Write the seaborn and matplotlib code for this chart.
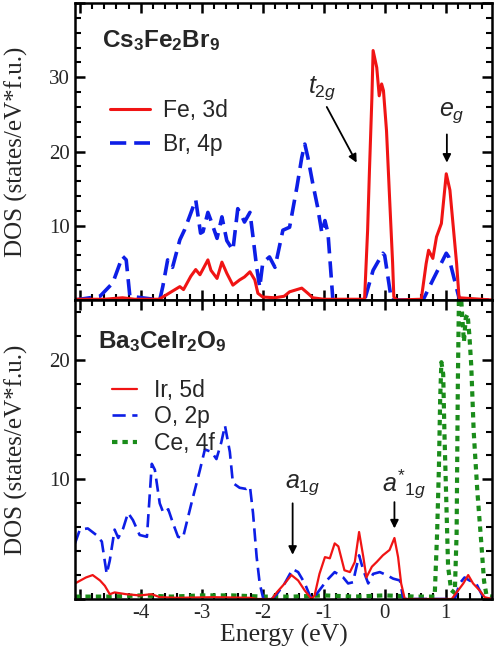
import numpy as np
import pandas as pd
import seaborn as sns
import matplotlib
matplotlib.use("Agg")
import matplotlib.pyplot as plt
from matplotlib.ticker import MultipleLocator, FuncFormatter
from matplotlib.lines import Line2D

# ---- Cs3Fe2Br9 (top panel) ----
fe_x = [-5.08, -4.6, -4.3, -4.1, -3.7, -3.6, -3.52, -3.36, -3.3, -3.18, -3.1, -3.03,
        -2.9, -2.85, -2.75, -2.67, -2.59, -2.49, -2.38, -2.3, -2.21, -2.13, -2.08,
        -2.0, -1.8, -1.65, -1.56, -1.36, -1.26, -1.18, -1.0, -0.33, -0.28, -0.25,
        -0.21, -0.19, -0.13, -0.09, -0.05, -0.02, 0.03, 0.08, 0.13, 0.15, 0.2, 0.6,
        0.68, 0.72, 0.79, 0.85, 0.93, 1.01, 1.07, 1.12, 1.18, 1.22, 1.76]
fe_y = [0.1, 0.1, 0.3, 0.1, 0.1, 0.6, 1.0, 1.8, 1.4, 3.2, 4.1, 3.4,
        5.4, 4.0, 2.9, 5.1, 3.6, 2.0, 2.7, 3.1, 3.8, 2.7, 0.9,
        0.4, 0.3, 0.5, 1.1, 1.6, 0.9, 0.3, 0.1, 0.1, 9.4, 17.4,
        27.2, 33.6, 31.3, 27.5, 29.1, 28.2, 22.8, 13.8, 5.0, 0.4, 0.0, 0.1,
        4.9, 6.7, 5.6, 8.5, 10.3, 17.0, 14.8, 10.3, 4.9, 0.3, 0.0]

br_x = [-5.08, -4.67, -4.46, -4.38, -4.3, -4.24, -4.18, -3.69, -3.64, -3.56, -3.48,
        -3.36, -3.28, -3.18, -3.1, -3.02, -2.98, -2.9, -2.85, -2.75, -2.67, -2.59,
        -2.49, -2.41, -2.36, -2.3, -2.21, -2.16, -2.1, -2.05, -2.0, -1.89, -1.8,
        -1.75, -1.67, -1.56, -1.44, -1.36, -1.31, -1.26, -1.18, -1.1, -1.03, -0.98,
        -0.93, -0.87, -0.85, -0.33, -0.19, -0.03, 0.0, 0.11, 0.63, 0.79, 1.01, 1.05,
        1.2, 1.23, 1.76]
br_y = [0.0, 0.5, 2.3, 4.1, 5.9, 5.4, 0.5, 0.0, 1.8, 5.4, 4.4,
        8.1, 9.5, 11.7, 13.5, 9.0, 9.2, 11.8, 10.7, 8.3, 11.2, 8.0,
        6.7, 12.3, 11.6, 10.5, 11.8, 8.5, 4.4, 1.7, 5.0, 5.8, 4.4,
        6.3, 9.4, 9.8, 15.2, 19.2, 21.0, 19.2, 15.7, 12.5, 9.0, 10.7,
        9.0, 2.3, 0.0, 0.0, 4.0, 6.3, 6.0, 0.0, 0.0, 2.7, 6.3, 5.8,
        0.9, 0.0, 0.0]

# ---- Ba3CeIr2O9 (bottom panel) ----
ir_x = [-5.08, -4.9, -4.79, -4.67, -4.59, -4.51, -4.43, -4.24, -4.02, -3.82, -3.69,
        -3.4, -2.8, -2.2, -2.1, -1.85, -1.77, -1.64, -1.53, -1.42, -1.31, -1.2, -1.15,
        -1.07, -0.98, -0.9, -0.82, -0.76, -0.66, -0.57, -0.49, -0.42, -0.35, -0.3,
        -0.21, -0.13, -0.03, 0.08, 0.16, 0.22, 0.27, 0.33, 1.1, 1.18, 1.29, 1.37,
        1.45, 1.56, 1.64, 1.76]
ir_y = [1.3, 1.8, 2.0, 1.55, 1.1, 0.4, 0.55, 0.4, 0.3, 0.4, 0.15,
        0.1, 0.15, 0.1, 0.0, 0.0, 0.55, 1.3, 2.0, 1.55, 0.7, 0.0, 0.3,
        2.1, 3.5, 3.4, 4.65, 4.4, 2.4, 2.25, 3.1, 5.6, 3.5, 1.8,
        2.7, 3.1, 3.65, 4.1, 5.1, 3.5, 1.3, 0.0, 0.0, 0.55, 1.3, 2.0,
        1.3, 0.7, 0.15, 0.0]

o_x = [-5.08, -5.0, -4.87, -4.73, -4.64, -4.56, -4.51, -4.43, -4.37, -4.29, -4.21,
       -4.13, -4.02, -3.9, -3.82, -3.77, -3.69, -3.63, -3.55, -3.47, -3.39, -3.31,
       -3.17, -3.03, -2.95, -2.84, -2.76, -2.68, -2.62, -2.54, -2.49, -2.38, -2.27,
       -2.21, -2.16, -2.1, -2.05, -1.99, -1.85, -1.77, -1.64, -1.51, -1.42, -1.31,
       -1.23, -1.18, -1.09, -0.95, -0.82, -0.68, -0.6, -0.52, -0.42, -0.35, -0.27,
       -0.19, -0.08, 0.03, 0.14, 0.25, 0.3, 0.33, 1.15, 1.23, 1.31, 1.39, 1.5,
       1.59, 1.64, 1.76]
o_y = [4.65, 5.8, 5.9, 5.35, 4.8, 2.1, 3.2, 5.8, 5.1, 5.9, 7.2,
       6.6, 5.35, 5.2, 11.3, 10.8, 8.0, 7.2, 7.5, 6.3, 5.2, 5.1,
       8.0, 10.8, 12.5, 12.3, 11.7, 13.1, 14.5, 12.3, 9.7, 9.3, 9.2,
       9.4, 7.2, 3.5, 1.3, 0.0, 0.0, 0.4, 1.3, 2.5, 2.25, 1.3,
       0.3, 0.0, 0.6, 1.55, 2.25, 1.8, 1.3, 1.4, 3.65, 2.4, 1.3,
       2.1, 2.25, 2.0, 1.7, 1.55, 0.15, 0.0, 0.0, 1.3, 1.8, 1.55, 1.3,
       0.4, 0.0, 0.0]

ce_x = [-5.08, -4.5, -4.0, -3.5, -3.0, -2.5, -2.0, -1.5, -1.0, -0.5, 0.0, 0.5, 0.75,
        0.82, 0.86, 0.89, 0.91, 0.93, 0.96, 0.98, 1.01, 1.04, 1.09, 1.15, 1.18,
        1.2, 1.22, 1.25, 1.28, 1.3, 1.33, 1.36, 1.39, 1.42, 1.46, 1.52, 1.58,
        1.63, 1.67, 1.76]
ce_y = [0.2, 0.2, 0.3, 0.2, 0.3, 0.3, 0.2, 0.2, 0.3, 0.2, 0.3, 0.2, 0.2,
        0.2, 5.5, 11.1, 16.7, 19.8, 18.8, 13.9, 8.3, 2.7, 0.75, 0.5, 5.5,
        18.0, 26.0, 25.5, 23.0, 21.5, 23.5, 23.8, 22.0, 19.5, 14.0, 9.0, 5.0,
        1.5, 0.3, 0.2]

red = "#f01414"
blue = "#0d1ee6"
green = "#1a8c1a"

sns.set_style("ticks")
plt.rcParams["font.family"] = ["Liberation Serif", "DejaVu Serif"]
plt.rcParams["axes.unicode_minus"] = False
plt.rcParams["mathtext.fontset"] = "custom"
plt.rcParams["mathtext.rm"] = "Liberation Sans"
plt.rcParams["mathtext.it"] = "Liberation Sans:italic"
plt.rcParams["mathtext.bf"] = "Liberation Sans:bold"

fig = plt.figure(figsize=(4.95, 6.56), dpi=100)
ax1 = fig.add_axes([0.1515, 0.5427, 0.8424, 0.4527])
ax2 = fig.add_axes([0.1515, 0.0869, 0.8424, 0.4558])

sns.lineplot(x=br_x, y=br_y, ax=ax1, color=blue, lw=2.6, linestyle=(0, (4.5, 2.2)))
sns.lineplot(x=fe_x, y=fe_y, ax=ax1, color=red, lw=2.2)
sns.lineplot(x=ce_x, y=ce_y, ax=ax2, color=green, lw=3.0, linestyle=(0, (1.3, 1.2)))
sns.lineplot(x=o_x, y=o_y, ax=ax2, color=blue, lw=1.9, linestyle=(0, (5, 2.5)))
sns.lineplot(x=ir_x, y=ir_y, ax=ax2, color=red, lw=1.6)

# axes: limits, ticks, frame
for ax, top_lim in [(ax1, 40), (ax2, 25)]:
    ax.set_xlim(-5.08, 1.76)
    ax.set_ylim(0, top_lim)
    ax.xaxis.set_major_locator(MultipleLocator(1))
    ax.xaxis.set_minor_locator(MultipleLocator(0.2))
    ax.yaxis.set_major_locator(MultipleLocator(10))
    ax.yaxis.set_minor_locator(MultipleLocator(2))
    ax.xaxis.set_major_formatter(
        FuncFormatter(lambda v, p: "" if v < -4.5 else f"{v + 0:g}"))
    ax.yaxis.set_major_formatter(
        FuncFormatter(lambda v, p, t=top_lim: "" if v <= 0 or v >= t else f"{v:g}"))
    ax.tick_params(which="both", direction="in", top=True, right=True, labelsize=15)
    ax.tick_params(which="major", length=7, width=1.8, color="black")
    ax.tick_params(which="minor", length=4.5, width=1.5, color="black")
    for sp in ax.spines.values():
        sp.set_linewidth(1.8)
        sp.set_color("black")
    ax.set_ylabel("DOS (states/eV*f.u.)", fontsize=18)
    ax.yaxis.set_label_coords(-0.113, 0.5)

ax1.tick_params(labelbottom=False)
ax1.set_xlabel("")
ax2.set_xlabel("Energy (eV)", fontsize=18.5, labelpad=1)

# compound names
ax1.text(0.065, 0.875, r"$\mathbf{Cs_3Fe_2Br_9}$", transform=ax1.transAxes,
         fontsize=17.5, va="center", ha="left")
ax2.text(0.055, 0.86, r"$\mathbf{Ba_3CeIr_2O_9}$", transform=ax2.transAxes,
         fontsize=17.5, va="center", ha="left")

# legends
h1 = [Line2D([], [], color=red, lw=2.2),
      Line2D([], [], color=blue, lw=2.6, linestyle=(0, (4.5, 2.2)))]
ax1.legend(h1, ["Fe, 3d", "Br, 4p"], loc="upper left",
           bbox_to_anchor=(0.045, 0.73), frameon=False, handlelength=1.75,
           handletextpad=0.55, labelspacing=0.45, borderpad=0.2,
           prop={"family": "Liberation Sans", "size": 16.5})

h2 = [Line2D([], [], color=red, lw=1.6),
      Line2D([], [], color=blue, lw=1.9, linestyle=(0, (5, 2.5))),
      Line2D([], [], color=green, lw=3.0, linestyle=(0, (1.3, 1.2)))]
ax2.legend(h2, ["Ir, 5d", "O, 2p", "Ce, 4f"], loc="upper left",
           bbox_to_anchor=(0.05, 0.79), frameon=False, handlelength=1.1,
           handletextpad=0.75, labelspacing=0.15, borderpad=0.2,
           prop={"family": "Liberation Sans", "size": 16.5})

# orbital annotations
ax1.annotate("", xy=(-0.46, 18.5), xytext=(-0.95, 26.0),
             arrowprops=dict(arrowstyle="-|>", color="black", lw=1.3,
                             mutation_scale=12, shrinkA=0, shrinkB=0))
ax1.text(-1.02, 28.6, r"$t_{2g}$", fontsize=18, ha="center", va="center")
ax1.annotate("", xy=(1.02, 18.5), xytext=(1.02, 22.3),
             arrowprops=dict(arrowstyle="-|>", color="black", lw=1.3,
                             mutation_scale=12, shrinkA=0, shrinkB=0))
ax1.text(1.1, 25.3, r"$e_{g}$", fontsize=18, ha="center", va="center")

ax2.annotate("", xy=(-1.51, 3.7), xytext=(-1.51, 8.0),
             arrowprops=dict(arrowstyle="-|>", color="black", lw=1.3,
                             mutation_scale=12, shrinkA=0, shrinkB=0))
ax2.text(-1.34, 9.6, r"$a_{1g}$", fontsize=18, ha="center", va="center")
ax2.annotate("", xy=(0.16, 5.9), xytext=(0.16, 8.1),
             arrowprops=dict(arrowstyle="-|>", color="black", lw=1.3,
                             mutation_scale=12, shrinkA=0, shrinkB=0))
ax2.text(0.32, 9.6, r"$a^{*}{}_{1g}$", fontsize=18, ha="center", va="center")

fig.savefig("out.png", dpi=100)
